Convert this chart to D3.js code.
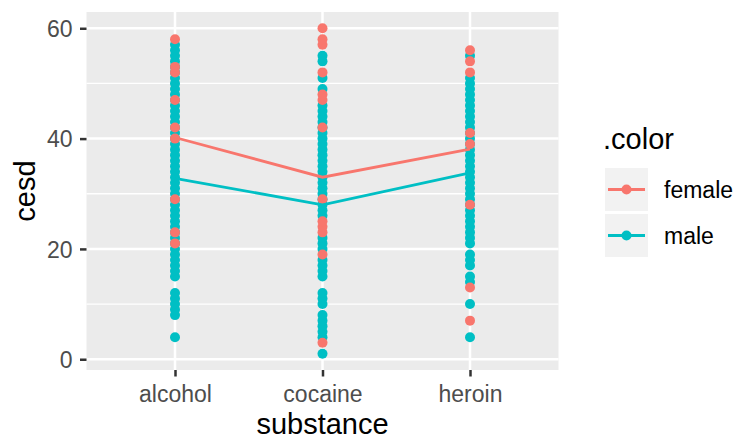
<!DOCTYPE html>
<html>
<head>
<meta charset="utf-8">
<script src="https://cdn.jsdelivr.net/npm/d3@7"></script>
<style>
  html, body { margin: 0; padding: 0; background: #ffffff; }
  svg { display: block; font-family: "Liberation Sans", Arial, Helvetica, sans-serif; }
</style>
</head>
<body>
<svg id="chart" width="737" height="439"></svg>
<script>
// ---- data ----
const categories = ["alcohol", "cocaine", "heroin"];
const sexes = ["female", "male"];
const yTicks = [0, 20, 40, 60];
const yMinorTicks = [10, 30, 50];

const alcoholMale = [4, 8, 9, 10, 11, 12, 15, 16, 17, 18, 19, 20, 21, 22, 23, 24, 25, 26, 27, 28, 29, 30,
  31, 32, 33, 34, 35, 36, 37, 38, 39, 40, 41, 42, 43, 44, 45, 46, 47, 48, 49, 50, 51, 52, 53, 54, 55, 56, 57];
const alcoholFemale = [21, 23, 29, 40, 42, 47, 52, 53, 58];

const cocaineMale = [1, 4, 5, 6, 7, 8, 10, 11, 12, 15, 16, 17, 18, 20, 21, 22, 26, 27, 28, 29, 30, 31, 32,
  33, 34, 35, 36, 37, 38, 39, 40, 41, 42, 43, 44, 45, 46, 49, 51, 54, 55];
const cocaineFemale = [3, 19, 23, 24, 25, 29, 42, 47, 48, 52, 57, 58, 60];

const heroinMale = [4, 10, 14, 15, 17, 18, 19, 21, 22, 23, 24, 25, 26, 27, 28, 29, 30, 31, 32, 33, 34, 35,
  36, 37, 38, 39, 40, 41, 42, 43, 44, 45, 46, 47, 48, 49, 50, 51, 55];
const heroinFemale = [7, 13, 28, 39, 41, 52, 54, 56];

// group means (drawn as lines)
const meanFemale = [40.2, 33.0, 38.1];
const meanMale = [32.8, 28.0, 33.8];

// ---- build tables ----
const maleBySub = { alcohol: alcoholMale, cocaine: cocaineMale, heroin: heroinMale };
const femaleBySub = { alcohol: alcoholFemale, cocaine: cocaineFemale, heroin: heroinFemale };
const points = [];
categories.forEach(c => maleBySub[c].forEach(v => points.push({ sub: c, sex: "male", v })));
categories.forEach(c => femaleBySub[c].forEach(v => points.push({ sub: c, sex: "female", v })));
const meanLines = [
  { sex: "female", vals: categories.map((c, i) => ({ sub: c, v: meanFemale[i] })) },
  { sex: "male", vals: categories.map((c, i) => ({ sub: c, v: meanMale[i] })) }
];

// ---- layout ----
const panel = { left: 86.5, right: 558.5, top: 12, bottom: 370 };
const color = d3.scaleOrdinal().domain(sexes).range(["#F8766D", "#00BFC4"]);
const x = d3.scalePoint().domain(categories).range([panel.left, panel.right]).padding(0.6);
const y = d3.scaleLinear().domain([-1.95, 62.95]).range([panel.bottom, panel.top]);
const R = 5;

const svg = d3.select("#chart");
const pw = panel.right - panel.left, ph = panel.bottom - panel.top;

svg.append("rect").attr("x", panel.left).attr("y", panel.top)
  .attr("width", pw).attr("height", ph).attr("fill", "#EBEBEB");

// minor grid
svg.append("g").selectAll("line").data(yMinorTicks).join("line")
  .attr("x1", panel.left).attr("x2", panel.right)
  .attr("y1", d => y(d)).attr("y2", d => y(d))
  .attr("stroke", "#ffffff").attr("stroke-width", 1.3);
// major grid
svg.append("g").selectAll("line").data(yTicks).join("line")
  .attr("x1", panel.left).attr("x2", panel.right)
  .attr("y1", d => y(d)).attr("y2", d => y(d))
  .attr("stroke", "#ffffff").attr("stroke-width", 2.5);
svg.append("g").selectAll("line").data(categories).join("line")
  .attr("x1", d => x(d)).attr("x2", d => x(d))
  .attr("y1", panel.top).attr("y2", panel.bottom)
  .attr("stroke", "#ffffff").attr("stroke-width", 2.5);

// points
svg.append("g").selectAll("circle").data(points).join("circle")
  .attr("cx", d => x(d.sub)).attr("cy", d => y(d.v)).attr("r", R)
  .attr("fill", d => color(d.sex));

// mean lines
const line = d3.line().x(d => x(d.sub)).y(d => y(d.v));
svg.append("g").selectAll("path").data(meanLines).join("path")
  .attr("d", d => line(d.vals)).attr("fill", "none")
  .attr("stroke", d => color(d.sex)).attr("stroke-width", 2.8);

// axes
const yAxis = svg.append("g").attr("transform", `translate(${panel.left},0)`)
  .call(d3.axisLeft(y).tickValues(yTicks).tickSize(6.5).tickPadding(7.5).tickFormat(d3.format("d")));
const xAxis = svg.append("g").attr("transform", `translate(0,${panel.bottom})`)
  .call(d3.axisBottom(x).tickSize(6.5).tickPadding(7));
[yAxis, xAxis].forEach(g => {
  g.select(".domain").remove();
  g.selectAll(".tick line").attr("stroke", "#333333").attr("stroke-width", 2.5);
  g.selectAll(".tick text").attr("fill", "#4D4D4D").attr("font-size", "23px")
    .attr("font-family", "Liberation Sans, Arial, sans-serif");
});
yAxis.selectAll(".tick text").attr("dy", "0.36em");
xAxis.selectAll(".tick text").attr("dy", null).attr("y", 31.7);

// axis titles
svg.append("text").attr("x", (panel.left + panel.right) / 2).attr("y", 434)
  .attr("text-anchor", "middle").attr("font-size", "29px").attr("fill", "#000")
  .text("substance");
svg.append("text").attr("transform", `translate(35,${(panel.top + panel.bottom) / 2}) rotate(-90)`)
  .attr("text-anchor", "middle").attr("font-size", "29px").attr("fill", "#000")
  .text("cesd");

// legend
const lg = svg.append("g");
lg.append("text").attr("x", 603).attr("y", 148.5).attr("font-size", "29px").attr("fill", "#000").text(".color");
const keyY = [168, 214];
sexes.forEach((s, i) => {
  const k = lg.append("g").attr("transform", `translate(605,${keyY[i]})`);
  k.append("rect").attr("width", 43).attr("height", 43).attr("fill", "#F2F2F2");
  k.append("line").attr("x1", 3).attr("x2", 40).attr("y1", 21.5).attr("y2", 21.5)
    .attr("stroke", color(s)).attr("stroke-width", 2.8);
  k.append("circle").attr("cx", 21.5).attr("cy", 21.5).attr("r", R).attr("fill", color(s));
  lg.append("text").attr("x", 664).attr("y", keyY[i] + 21.5).attr("dy", "0.36em")
    .attr("font-size", "23px").attr("fill", "#000").text(s);
});
</script>
</body>
</html>
